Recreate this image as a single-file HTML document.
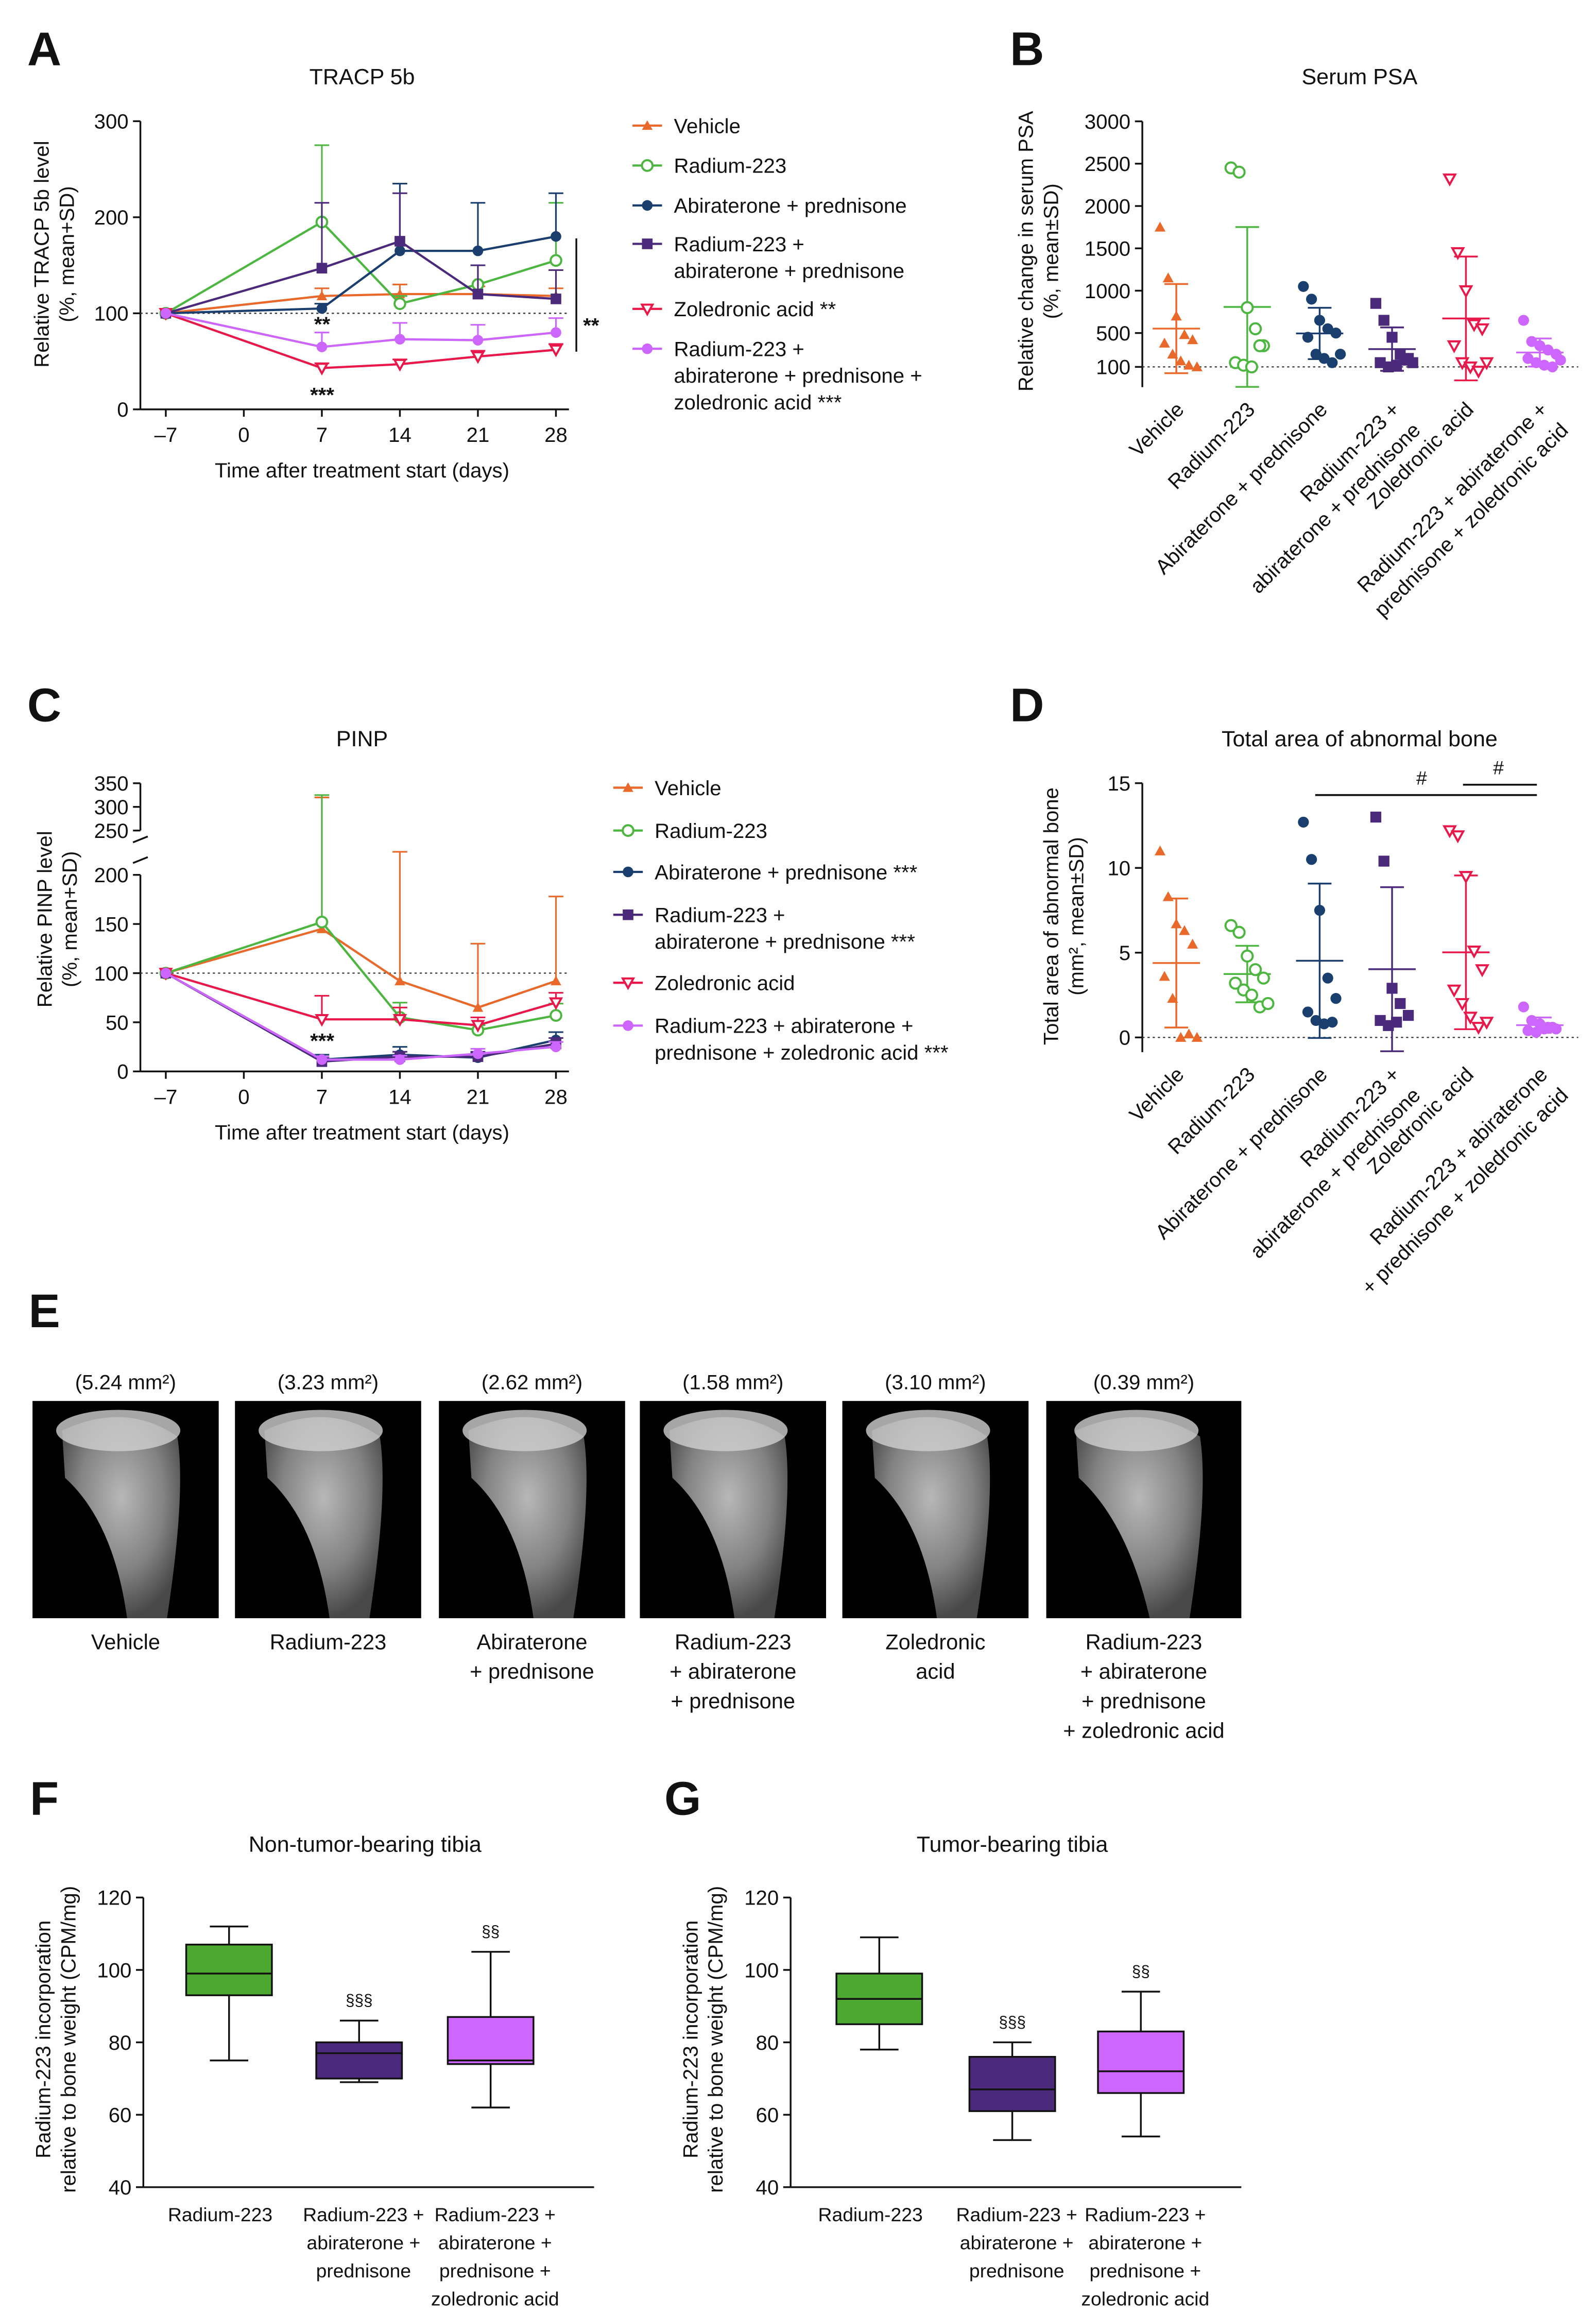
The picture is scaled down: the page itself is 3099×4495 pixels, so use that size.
<!DOCTYPE html>
<html><head><meta charset="utf-8"><title>Figure</title>
<style>
html,body{margin:0;padding:0;background:#fff;}
svg{display:block;font-family:"Liberation Sans",Arial,sans-serif;}
</style></head>
<body>
<svg id="fig" width="3099" height="4495" viewBox="0 0 1080 1566.5" xmlns="http://www.w3.org/2000/svg">
<defs>
<radialGradient id="boneG" cx="50%" cy="40%" r="60%"><stop offset="0" stop-color="#d8d8d8"/><stop offset="0.6" stop-color="#9a9a9a"/><stop offset="1" stop-color="#555"/></radialGradient>
</defs>
<g id="root"></g>
</svg>
<script>
// ---------- DATA ----------
const daysX = [-7, 7, 14, 21, 28];
const dayTicks = ["\u20137", "0", "7", "14", "21", "28"];
const dayTickVals = [-7, 0, 7, 14, 21, 28];
// Panel A TRACP 5b
const tracpVehicle = [100, 118, 120, 120, 118];
const tracpVehicleSD = [0, 8, 10, 8, 8];
const tracpRadium = [100, 195, 110, 130, 155];
const tracpRadiumSD = [0, 80, 8, 20, 60];
const tracpAbi = [100, 105, 165, 165, 180];
const tracpAbiSD = [0, 5, 70, 50, 45];
const tracpRaAbi = [100, 147, 175, 120, 115];
const tracpRaAbiSD = [0, 68, 50, 30, 30];
const tracpZol = [100, 43, 47, 55, 62];
const tracpZolSD = [0, 5, 5, 6, 6];
const tracpTriple = [100, 65, 73, 72, 80];
const tracpTripleSD = [0, 15, 17, 16, 15];
const tracpTicks = [0, 100, 200, 300];
// Panel C PINP
const pinpVehicle = [100, 145, 92, 65, 92];
const pinpVehicleSD = [0, 175, 113, 65, 86];
const pinpRadium = [100, 152, 55, 42, 57];
const pinpRadiumSD = [0, 173, 15, 5, 12];
const pinpAbi = [100, 12, 17, 14, 32];
const pinpAbiSD = [0, 5, 8, 5, 8];
const pinpRaAbi = [100, 10, 15, 15, 28];
const pinpRaAbiSD = [0, 4, 5, 5, 6];
const pinpZol = [100, 53, 53, 47, 70];
const pinpZolSD = [0, 24, 12, 8, 10];
const pinpTriple = [100, 12, 12, 18, 25];
const pinpTripleSD = [0, 3, 4, 5, 5];
const pinpTicksLow = [0, 50, 100, 150, 200];
const pinpTicksHigh = [250, 300, 350];
// Group names
const groupNames = ["Vehicle", "Radium-223", "Abiraterone + prednisone", "Radium-223 + abiraterone + prednisone", "Zoledronic acid", "Radium-223 + abiraterone + prednisone + zoledronic acid"];
// Panel B PSA
const psaVehicle = [1750, 1150, 700, 480, 420, 380, 250, 170, 120, 100];
const psaRadium = [2450, 2400, 800, 550, 350, 150, 120, 100, 350];
const psaAbi = [1050, 900, 650, 550, 500, 450, 250, 200, 150, 250];
const psaRaAbi = [850, 650, 450, 250, 200, 150, 100, 120, 180, 150];
const psaZol = [2320, 1450, 1000, 600, 550, 350, 150, 100, 50, 150];
const psaTriple = [650, 400, 350, 300, 250, 200, 150, 120, 100, 180];
const psaTicks = [100, 500, 1000, 1500, 2000, 2500, 3000];
// Panel D abnormal bone
const areaVehicle = [11, 8.3, 6.7, 6.3, 5.5, 3.6, 2.3, 0, 0.2, 0];
const areaRadium = [6.6, 6.2, 4.8, 4, 3.5, 3.2, 2.8, 2.5, 1.8, 2];
const areaAbi = [12.7, 10.5, 7.5, 3.5, 2.3, 1.5, 1.0, 0.8, 0.9];
const areaRaAbi = [13, 10.4, 2.9, 2, 1.3, 1, 0.7, 0.9];
const areaZol = [12.2, 11.9, 9.5, 5.1, 4, 2.8, 2, 1.2, 0.6, 0.9];
const areaTriple = [1.8, 1, 0.8, 0.6, 0.5, 0.4, 0.3, 0.5, 0.6];
const areaTicks = [0, 5, 10, 15];
// Panel F/G boxes: [min, q1, median, q3, max]
const boxF = [[75, 93, 99, 107, 112], [69, 70, 77, 80, 86], [62, 74, 75, 87, 105]];
const boxG = [[78, 85, 92, 99, 109], [53, 61, 67, 76, 80], [54, 66, 72, 83, 94]];
const boxSig = ["", "\u00a7\u00a7\u00a7", "\u00a7\u00a7"];
const boxTicks = [40, 60, 80, 100, 120];
const areaMM = ["5.24", "3.23", "2.62", "1.58", "3.10", "0.39"];

// ---------- helpers ----------
const NS = "http://www.w3.org/2000/svg";
const root = document.getElementById("root");
function mk(tag, attrs, parent, txt) {
  const e = document.createElementNS(NS, tag);
  for (const k in attrs) e.setAttribute(k, attrs[k]);
  if (txt !== undefined) e.textContent = txt;
  (parent || root).appendChild(e);
  return e;
}
function grp(name, parent) {
  const g = mk("g", {}, parent);
  
  
  return g;
}
function txt(x, y, s, size, parent, anchor, extra) {
  const a = Object.assign({x: x, y: y, "font-size": size, "text-anchor": anchor || "middle", fill: "#111"}, extra || {});
  return mk("text", a, parent, s);
}
function marker(type, color, x, y, parent, r) {
  r = r || 3.8;
  let e;
  if (type === "tri") e = mk("polygon", {points: `${x},${y - r} ${x + r},${y + r * 0.8} ${x - r},${y + r * 0.8}`, fill: color}, parent);
  else if (type === "ocirc") e = mk("circle", {cx: x, cy: y, r: r, fill: "#fff", stroke: color, "stroke-width": 1.4}, parent);
  else if (type === "circ") e = mk("circle", {cx: x, cy: y, r: r, fill: color}, parent);
  else if (type === "sq") e = mk("rect", {x: x - r, y: y - r, width: 2 * r, height: 2 * r, fill: color}, parent);
  else e = mk("polygon", {points: `${x - r},${y - r * 0.8} ${x + r},${y - r * 0.8} ${x},${y + r}`, fill: "#fff", stroke: color, "stroke-width": 1.4}, parent);
  return e;
}
const colors = ["#e8692a", "#4cb640", "#1a3f6f", "#4b2a7b", "#e8194a", "#cc66ff"];
const mtypes = ["tri", "ocirc", "circ", "sq", "otri", "circ"];

// panel letters
[["A", 30, 44], ["B", 695, 44], ["C", 30, 488], ["D", 695, 488], ["E", 30, 898], ["F", 30, 1228], ["G", 462, 1228]].forEach(function (p) {
  const t = txt(p[1], p[2], p[0], 32, root, "middle", {"font-weight": "bold"});
  
  
});

// ---------- line charts ----------
const xDay = d => 165 + (d / 7) * 52.8;
function lineChart(name, title, titleY, axisBottom, yFn, ticks, series, sds, legendX, legendTextX, legendRows, breakInfo) {
  const g = grp(name);
  const tt = txt(245, titleY, title, 15, g);
  
  
  mk("line", {x1: 95, y1: axisBottom, x2: 385, y2: axisBottom, stroke: "#111", "stroke-width": 1.2}, g);
  dayTickVals.forEach(function (d, i) {
    const x = xDay(d);
    mk("line", {x1: x, y1: axisBottom, x2: x, y2: axisBottom + 5, stroke: "#111", "stroke-width": 1.2}, g);
    const t = txt(x, axisBottom + 22, dayTicks[i], 14, g);
    
    
  });
  const xl = txt(245, axisBottom + 46, "Time after treatment start (days)", 14, g);
  
  
  if (breakInfo) {
    mk("line", {x1: 95, y1: yFn(0), x2: 95, y2: yFn(200), stroke: "#111", "stroke-width": 1.2}, g);
    mk("line", {x1: 95, y1: yFn(250), x2: 95, y2: yFn(350), stroke: "#111", "stroke-width": 1.2}, g);
    mk("line", {x1: 90, y1: yFn(200) - 8, x2: 100, y2: yFn(200) - 12, stroke: "#111", "stroke-width": 1.2}, g);
    mk("line", {x1: 90, y1: yFn(250) + 8, x2: 100, y2: yFn(250) + 4, stroke: "#111", "stroke-width": 1.2}, g);
  } else {
    mk("line", {x1: 95, y1: yFn(0), x2: 95, y2: yFn(ticks[ticks.length - 1]), stroke: "#111", "stroke-width": 1.2}, g);
  }
  ticks.forEach(function (v) {
    const y = yFn(v);
    mk("line", {x1: 90, y1: y, x2: 95, y2: y, stroke: "#111", "stroke-width": 1.2}, g);
    const t = txt(87, y + 5, String(v), 14, g, "end");
    
    
  });
  mk("line", {x1: 95, y1: yFn(100), x2: 385, y2: yFn(100), stroke: "#333", "stroke-width": 0.8, "stroke-dasharray": "1.5,2"}, g);
  series.forEach(function (s, si) {
    const sg = grp(name + '-series-' + si, g);
    const pts = s.map((v, i) => xDay(daysX[i]) + "," + yFn(v)).join(" ");
    mk("polyline", {points: pts, fill: "none", stroke: colors[si], "stroke-width": 1.5}, sg);
    s.forEach(function (v, i) {
      const x = xDay(daysX[i]);
      if (sds[si][i] > 0) {
        const yt = yFn(v + sds[si][i]);
        mk("line", {x1: x, y1: yFn(v), x2: x, y2: yt, stroke: colors[si], "stroke-width": 1.1}, sg);
        mk("line", {x1: x - 5, y1: yt, x2: x + 5, y2: yt, stroke: colors[si], "stroke-width": 1.1}, sg);
      }
      const m = marker(mtypes[si], colors[si], x, yFn(v), sg, 3.6);
      
      
    });
  });
  legendRows.forEach(function (row, i) {
    const lg = grp('legend-entry', g);
    const y = row[0];
    mk("line", {x1: legendX, y1: y, x2: legendX + 20, y2: y, stroke: colors[i], "stroke-width": 1.5}, lg);
    marker(mtypes[i], colors[i], legendX + 10, y, lg, 3.6);
    row[1].forEach(function (line, k) {
      txt(legendTextX, y + 5 + k * 18, line, 14, lg, "start");
    });
  });
  return g;
}

// Panel A
const yA = v => 277 - v * 0.65;
const gA = lineChart("panel-a-tracp", "TRACP 5b", 57, 277, yA, tracpTicks,
  [tracpVehicle, tracpRadium, tracpAbi, tracpRaAbi, tracpZol, tracpTriple],
  [tracpVehicleSD, tracpRadiumSD, tracpAbiSD, tracpRaAbiSD, tracpZolSD, tracpTripleSD],
  428, 456,
  [[85, ["Vehicle"]], [112, ["Radium-223"]], [139, ["Abiraterone + prednisone"]], [165, ["Radium-223 +", "abiraterone + prednisone"]], [209, ["Zoledronic acid **"]], [236, ["Radium-223 +", "abiraterone + prednisone +", "zoledronic acid ***"]]]);
txt(218, 224, "**", 14, gA, "middle", {"font-weight": "bold"});
txt(218, 272, "***", 14, gA, "middle", {"font-weight": "bold"});
mk("line", {x1: 390, y1: yA(178), x2: 390, y2: yA(60), stroke: "#111", "stroke-width": 1.2}, gA);
txt(400, 225, "**", 14, gA, "middle", {"font-weight": "bold"});
const ayA = txt(0, 0, "Relative TRACP 5b level", 14, gA, "middle", {transform: "translate(33,172) rotate(-90)"});


txt(0, 0, "(%, mean+SD)", 14, gA, "middle", {transform: "translate(50,172) rotate(-90)"});

// Panel C
const yC = function (v) { return v <= 200 ? 725 - v * 0.665 : 562 - (v - 250) * 0.32; };
const gC = lineChart("panel-c-pinp", "PINP", 505, 725, yC, pinpTicksLow.concat(pinpTicksHigh),
  [pinpVehicle, pinpRadium, pinpAbi, pinpRaAbi, pinpZol, pinpTriple],
  [pinpVehicleSD, pinpRadiumSD, pinpAbiSD, pinpRaAbiSD, pinpZolSD, pinpTripleSD],
  415, 443,
  [[533, ["Vehicle"]], [562, ["Radium-223"]], [590, ["Abiraterone + prednisone ***"]], [619, ["Radium-223 +", "abiraterone + prednisone ***"]], [665, ["Zoledronic acid"]], [694, ["Radium-223 + abiraterone +", "prednisone + zoledronic acid ***"]]], true);
txt(218, 709, "***", 14, gC, "middle", {"font-weight": "bold"});
txt(0, 0, "Relative PINP level", 14, gC, "middle", {transform: "translate(35,622) rotate(-90)"});
txt(0, 0, "(%, mean+SD)", 14, gC, "middle", {transform: "translate(52,622) rotate(-90)"});

// ---------- scatter charts ----------
const groupX = [796, 844, 893, 942, 992, 1042];
function meanSd(a) { const m = a.reduce((s, v) => s + v, 0) / a.length; const sd = Math.sqrt(a.reduce((s, v) => s + (v - m) * (v - m), 0) / (a.length - 1)); return [m, sd]; }
function scatter(name, title, titleY, groups, yFn, ticks, axisBottom, zeroY, labelLines, labelTop, refVal) {
  const g = grp(name);
  const tt = txt(920, titleY, title, 15, g);
  
  
  mk("line", {x1: 773, y1: yFn(ticks[ticks.length - 1]), x2: 773, y2: axisBottom, stroke: "#111", "stroke-width": 1.2}, g);
  ticks.forEach(function (v) {
    const y = yFn(v);
    mk("line", {x1: 768, y1: y, x2: 773, y2: y, stroke: "#111", "stroke-width": 1.2}, g);
    const t = txt(765, y + 5, String(v), 14, g, "end");
    
    
  });
  mk("line", {x1: 773, y1: yFn(refVal), x2: 1068, y2: yFn(refVal), stroke: "#333", "stroke-width": 0.8, "stroke-dasharray": "1.5,2"}, g);
  groups.forEach(function (arr, gi) {
    const sg = grp(name + '-group-' + gi, g);
    const cx = groupX[gi];
    const ms = meanSd(arr);
    const top = yFn(ms[0] + ms[1]), bot = yFn(ms[0] - ms[1]);
    mk("line", {x1: cx, y1: top, x2: cx, y2: bot, stroke: colors[gi], "stroke-width": 1.2}, sg);
    mk("line", {x1: cx - 8, y1: top, x2: cx + 8, y2: top, stroke: colors[gi], "stroke-width": 1.2}, sg);
    mk("line", {x1: cx - 8, y1: bot, x2: cx + 8, y2: bot, stroke: colors[gi], "stroke-width": 1.2}, sg);
    mk("line", {x1: cx - 16, y1: yFn(ms[0]), x2: cx + 16, y2: yFn(ms[0]), stroke: colors[gi], "stroke-width": 1.2}, sg);
    arr.forEach(function (v, i) {
      const off = ((i % 5) - 2) * 5.5 + (i >= 5 ? 3 : 0);
      const m = marker(mtypes[gi], colors[gi], cx + off, yFn(v), sg, 3.7);
      
      
    });
    labelLines[gi].forEach(function (line, k) {
      const t = txt(0, 0, line, 14, sg, "end", {transform: `translate(${cx + 6 + k * 14},${labelTop + k * 14}) rotate(-45)`});
      
      
    });
  });
  return g;
}
const yB = v => 254 - v * 0.0573;
const gB = scatter("panel-b-psa", "Serum PSA", 57, [psaVehicle, psaRadium, psaAbi, psaRaAbi, psaZol, psaTriple], yB, psaTicks, 262, 254,
  [["Vehicle"], ["Radium-223"], ["Abiraterone + prednisone"], ["Radium-223 +", "abiraterone + prednisone"], ["Zoledronic acid"], ["Radium-223 + abiraterone +", "prednisone + zoledronic acid"]], 278, 100);
txt(0, 0, "Relative change in serum PSA", 14, gB, "middle", {transform: "translate(699,170) rotate(-90)"});
txt(0, 0, "(%, mean\u00b1SD)", 14, gB, "middle", {transform: "translate(716,170) rotate(-90)"});

const yD = v => 702 - v * 11.47;
const gD = scatter("panel-d-area", "Total area of abnormal bone", 505, [areaVehicle, areaRadium, areaAbi, areaRaAbi, areaZol, areaTriple], yD, areaTicks, 712, 702,
  [["Vehicle"], ["Radium-223"], ["Abiraterone + prednisone"], ["Radium-223 +", "abiraterone + prednisone"], ["Zoledronic acid"], ["Radium-223 + abiraterone", "+ prednisone + zoledronic acid"]], 728, 0);
mk("line", {x1: 890, y1: 538, x2: 1040, y2: 538, stroke: "#111", "stroke-width": 1.3}, gD);
mk("line", {x1: 990, y1: 531, x2: 1040, y2: 531, stroke: "#111", "stroke-width": 1.3}, gD);
txt(962, 531, "#", 13, gD);
txt(1014, 524, "#", 13, gD);
txt(0, 0, "Total area of abnormal bone", 14, gD, "middle", {transform: "translate(716,620) rotate(-90)"});
txt(0, 0, "(mm\u00b2, mean\u00b1SD)", 14, gD, "middle", {transform: "translate(733,620) rotate(-90)"});

// ---------- Panel E images ----------
const gE = grp("panel-e-images");
const imgX = [22, 159, 297, 433, 570, 708];
const imgW = [126, 126, 126, 126, 126, 132];
const imgLabels = [["Vehicle"], ["Radium-223"], ["Abiraterone", "+ prednisone"], ["Radium-223", "+ abiraterone", "+ prednisone"], ["Zoledronic", "acid"], ["Radium-223", "+ abiraterone", "+ prednisone", "+ zoledronic acid"]];
imgX.forEach(function (x, i) {
  const ig = grp('xray-image-' + (i + 1), gE);
  const w = imgW[i], cx = x + w / 2;
  mk("rect", {x: x, y: 948, width: w, height: 147, fill: "#000"}, ig);
  mk("path", {d: `M${x + 20},${968} Q${cx},${948} ${x + w - 28},${972} Q${x + w - 22},${1010} ${x + w - 35},${1095} L${x + w - 62},${1095} Q${x + 55},${1030} ${x + 22},${1000} Z`, fill: "url(#boneG)", opacity: 0.85}, ig);
  mk("ellipse", {cx: cx - 5, cy: 968, rx: 42, ry: 14, fill: "#cfcfcf", opacity: 0.8}, ig);
  txt(cx, 940, "(" + areaMM[i] + " mm\u00b2)", 14, ig);
  imgLabels[i].forEach(function (l, k) { txt(cx, 1116 + k * 20, l, 14.5, ig); });
});

// ---------- Box plots ----------
function boxChart(name, title, axisX, groupXs, boxes) {
  const g = grp(name);
  const yF = v => 1480 - (v - 40) * 2.45;
  const tt = txt(axisX + 150, 1253, title, 15, g);
  
  
  mk("line", {x1: axisX, y1: yF(120), x2: axisX, y2: yF(40), stroke: "#111", "stroke-width": 1.2}, g);
  mk("line", {x1: axisX, y1: yF(40), x2: axisX + 305, y2: yF(40), stroke: "#111", "stroke-width": 1.2}, g);
  boxTicks.forEach(function (v) {
    mk("line", {x1: axisX - 5, y1: yF(v), x2: axisX, y2: yF(v), stroke: "#111", "stroke-width": 1.2}, g);
    const t = txt(axisX - 8, yF(v) + 5, String(v), 14, g, "end");
    
    
  });
  const fills = ["#4da832", "#4b2a7b", "#cc66ff"];
  const labs = [["Radium-223"], ["Radium-223 +", "abiraterone +", "prednisone"], ["Radium-223 +", "abiraterone +", "prednisone +", "zoledronic acid"]];
  boxes.forEach(function (b, i) {
    const bg = grp(name + '-box-' + i, g);
    const cx = groupXs[i];
    mk("line", {x1: cx, y1: yF(b[0]), x2: cx, y2: yF(b[4]), stroke: "#111", "stroke-width": 1.2}, bg);
    mk("line", {x1: cx - 13, y1: yF(b[0]), x2: cx + 13, y2: yF(b[0]), stroke: "#111", "stroke-width": 1.2}, bg);
    mk("line", {x1: cx - 13, y1: yF(b[4]), x2: cx + 13, y2: yF(b[4]), stroke: "#111", "stroke-width": 1.2}, bg);
    mk("rect", {x: cx - 29, y: yF(b[3]), width: 58, height: yF(b[1]) - yF(b[3]), fill: fills[i], stroke: "#111", "stroke-width": 1.2}, bg);
    mk("line", {x1: cx - 29, y1: yF(b[2]), x2: cx + 29, y2: yF(b[2]), stroke: "#111", "stroke-width": 1.2}, bg);
    if (boxSig[i]) txt(cx, yF(b[4]) - 10, boxSig[i], 11, bg);
    labs[i].forEach(function (l, k) { txt(cx + (i === 0 ? -6 : 3), 1503 + k * 19, l, 13, bg); });
  });
  txt(0, 0, "Radium-223 incorporation", 14, g, "middle", {transform: `translate(${axisX - 63},1380) rotate(-90)`});
  txt(0, 0, "relative to bone weight (CPM/mg)", 14, g, "middle", {transform: `translate(${axisX - 46},1380) rotate(-90)`});
  return g;
}
boxChart("panel-f-box", "Non-tumor-bearing tibia", 97, [155, 243, 332], boxF);
boxChart("panel-g-box", "Tumor-bearing tibia", 535, [595, 685, 772], boxG);
</script>
</body></html>
